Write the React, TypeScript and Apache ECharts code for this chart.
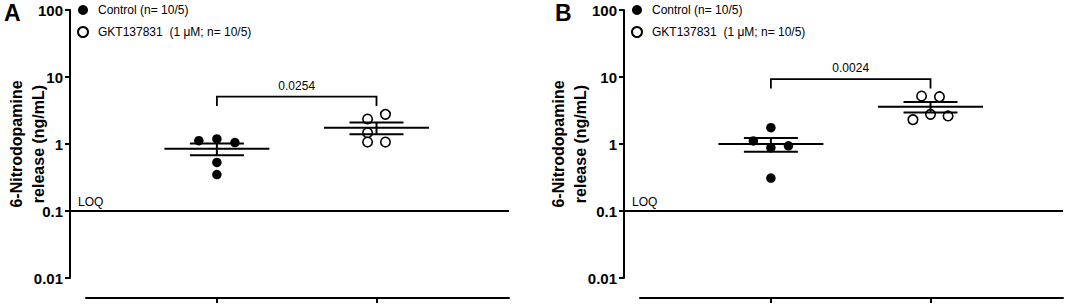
import React, { useEffect, useRef } from "react";
import * as echarts from "echarts";

// ---- data ----
const categories = ["Control", "GKT137831"];
const seriesNames = ["Control (n= 10/5)", "GKT137831  (1 μM; n= 10/5)"];
const yTickLabels = ["0.01", "0.1", "1", "10", "100"];
const LOQ = 0.1;

// Panel A (ng/mL)
const controlA = [1.12, 1.19, 1.05, 0.53, 0.35];
const gktA = [2.36, 2.77, 1.47, 1.07, 1.07];
// Panel B (ng/mL)
const controlB = [1.75, 1.11, 0.88, 0.94, 0.31];
const gktB = [5.2, 5.08, 2.31, 2.77, 2.62];

// horizontal spread of the points around each category (category units)
const controlAJitter = [-0.113, 0, 0.113, 0, 0];
const gktAJitter = [-0.056, 0.056, -0.056, -0.056, 0.056];
const controlBJitter = [0, -0.11, 0, 0.11, 0];
const gktBJitter = [-0.056, 0.056, -0.11, 0, 0.11];

const pValues = ["0.0254", "0.0024"];
const bracketLevels = [5.1, 9.3];
const panelLetters = ["A", "B"];

const FONT = 'Arial, "Liberation Sans", sans-serif';

function mean(a: number[]) {
  return a.reduce((s, v) => s + v, 0) / a.length;
}
function sem(a: number[]) {
  const m = mean(a);
  const sd = Math.sqrt(a.reduce((s, v) => s + (v - m) * (v - m), 0) / (a.length - 1));
  return sd / Math.sqrt(a.length);
}

const panels = [
  { ctrl: controlA, gkt: gktA, ctrlJ: controlAJitter, gktJ: gktAJitter, axisLeft: 70, nameGap: 21, letterX: 4 },
  { ctrl: controlB, gkt: gktB, ctrlJ: controlBJitter, gktJ: gktBJitter, axisLeft: 624, nameGap: 33, letterX: 555 },
];

function buildOption() {
  const grid: any[] = [];
  const xAxis: any[] = [];
  const yAxis: any[] = [];
  const series: any[] = [];
  const legend: any[] = [];
  const graphic: any[] = [];

  panels.forEach((p, k) => {
    const gAxis = k * 2;
    const gData = k * 2 + 1;
    grid.push({ left: p.axisLeft, top: 10, width: 439, height: 268, outerBoundsMode: "none", containLabel: false });
    grid.push({ left: p.axisLeft + 16, top: 10, width: 423, height: 268, outerBoundsMode: "none", containLabel: false });

    xAxis.push({ gridIndex: gAxis, type: "value", min: 0, max: 1, show: false });
    yAxis.push({
      gridIndex: gAxis,
      type: "log",
      logBase: 10,
      min: 0.01,
      max: 100,
      axisLine: { show: true, lineStyle: { color: "#000", width: 2 } },
      axisTick: { show: true, length: 5, lineStyle: { color: "#000", width: 2 } },
      splitLine: { show: false },
      minorTick: { show: false },
      axisLabel: {
        color: "#000",
        fontFamily: FONT,
        fontWeight: "bold",
        fontSize: 15,
        margin: 7,
        formatter: (v: number) => yTickLabels[Math.round(Math.log10(v)) + 2] ?? "",
      },
      name: "6-Nitrodopamine\nrelease (ng/mL)",
      nameLocation: "middle",
      nameGap: p.nameGap,
      nameMoveOverlap: false,
      nameTextStyle: {
        color: "#000",
        fontFamily: FONT,
        fontWeight: "bold",
        fontSize: 16,
        lineHeight: 22,
      },
    });

    xAxis.push({
      gridIndex: gData,
      type: "value",
      min: 0.18,
      max: 2.83,
      offset: 20,
      position: "bottom",
      axisLine: { show: true, onZero: false, lineStyle: { color: "#000", width: 2 } },
      axisTick: {
        show: true,
        length: 5,
        customValues: [1, 2],
        lineStyle: { color: "#000", width: 2 },
      },
      axisLabel: { show: false },
      splitLine: { show: false },
    });
    yAxis.push({
      gridIndex: gData,
      type: "log",
      logBase: 10,
      min: 0.01,
      max: 100,
      show: false,
    });

    // LOQ line
    series.push({
      type: "custom",
      name: "LOQ" + k,
      xAxisIndex: gAxis,
      yAxisIndex: gAxis,
      data: [[0, LOQ]],
      silent: true,
      renderItem: (params: any, api: any) => {
        const cs = params.coordSys;
        const y = api.coord([0, api.value(1)])[1];
        return {
          type: "group",
          children: [
            {
              type: "line",
              shape: { x1: cs.x, y1: y, x2: cs.x + cs.width, y2: y },
              style: { stroke: "#000", lineWidth: 2 },
            },
            {
              type: "text",
              x: cs.x + 8,
              y: y - 3,
              style: {
                text: "LOQ",
                fill: "#000",
                font: `12px ${FONT}`,
                textAlign: "left",
                textVerticalAlign: "bottom",
              },
            },
          ],
        };
      },
    });

    const groups = [
      { vals: p.ctrl, jit: p.ctrlJ, open: false },
      { vals: p.gkt, jit: p.gktJ, open: true },
    ];
    groups.forEach((g, gi) => {
      series.push({
        type: "scatter",
        name: seriesNames[gi],
        xAxisIndex: gData,
        yAxisIndex: gData,
        symbol: "circle",
        symbolSize: 9.5,
        itemStyle: g.open
          ? { color: "#fff", borderColor: "#000", borderWidth: 1.6, opacity: 1 }
          : { color: "#000", borderColor: "#000", borderWidth: 0, opacity: 1 },
        data: g.vals.map((v, i) => [gi + 1 + g.jit[i], v]),
        z: 3,
      });
    });

    // mean ± SEM
    series.push({
      type: "custom",
      name: "meanSem" + k,
      xAxisIndex: gData,
      yAxisIndex: gData,
      encode: { x: 0, y: [1, 2, 3] },
      silent: true,
      z: 4,
      data: groups.map((g, gi) => {
        const m = mean(g.vals);
        const s = sem(g.vals);
        return [gi + 1, m, m - s, m + s];
      }),
      renderItem: (params: any, api: any) => {
        const x = api.value(0);
        const c = api.coord([x, api.value(1)]);
        const lo = api.coord([x, api.value(2)]);
        const hi = api.coord([x, api.value(3)]);
        const st = { stroke: "#000", lineWidth: 2 };
        return {
          type: "group",
          children: [
            { type: "line", shape: { x1: c[0] - 52.5, y1: c[1], x2: c[0] + 52.5, y2: c[1] }, style: st },
            { type: "line", shape: { x1: c[0] - 27, y1: hi[1], x2: c[0] + 27, y2: hi[1] }, style: st },
            { type: "line", shape: { x1: c[0] - 27, y1: lo[1], x2: c[0] + 27, y2: lo[1] }, style: st },
            { type: "line", shape: { x1: c[0], y1: hi[1], x2: c[0], y2: lo[1] }, style: st },
          ],
        };
      },
    });

    // significance bracket
    series.push({
      type: "custom",
      name: "bracket" + k,
      xAxisIndex: gData,
      yAxisIndex: gData,
      encode: { x: [0, 1], y: 2 },
      silent: true,
      data: [[1, 2, bracketLevels[k]]],
      renderItem: (params: any, api: any) => {
        const a = api.coord([api.value(0), api.value(2)]);
        const b = api.coord([api.value(1), api.value(2)]);
        return {
          type: "group",
          children: [
            {
              type: "polyline",
              shape: { points: [[a[0], a[1] + 9.5], a, b, [b[0], b[1] + 9.5]] },
              style: { stroke: "#000", lineWidth: 1.8, fill: "none" },
            },
            {
              type: "text",
              x: (a[0] + b[0]) / 2,
              y: a[1] - 11,
              style: {
                text: pValues[k],
                fill: "#000",
                font: `12px ${FONT}`,
                textAlign: "center",
                textVerticalAlign: "middle",
              },
            },
          ],
        };
      },
    });

    legend.push({
      orient: "vertical",
      left: p.axisLeft + 7,
      top: 4,
      padding: 0,
      itemWidth: 10,
      itemHeight: 10,
      itemGap: 10,
      selectedMode: false,
      data: seriesNames,
      textStyle: { color: "#000", fontFamily: FONT, fontSize: 12, padding: [0, 0, 0, 5] },
    });

    graphic.push({
      type: "text",
      left: p.letterX,
      top: 1,
      style: {
        text: panelLetters[k],
        fill: "#000",
        font: `bold 23px ${FONT}`,
      },
    });
  });

  return {
    animation: false,
    backgroundColor: "#fff",
    textStyle: { fontFamily: FONT },
    grid,
    xAxis,
    yAxis,
    legend,
    graphic,
    series,
  };
}

export default function App() {
  const ref = useRef<HTMLDivElement>(null);
  useEffect(() => {
    document.body.style.margin = "0";
    if (!ref.current) return;
    const chart = echarts.init(ref.current, null, { renderer: "svg" });
    chart.setOption(buildOption() as any);
    return () => chart.dispose();
  }, []);
  return <div ref={ref} style={{ width: 1065, height: 305 }} />;
}
